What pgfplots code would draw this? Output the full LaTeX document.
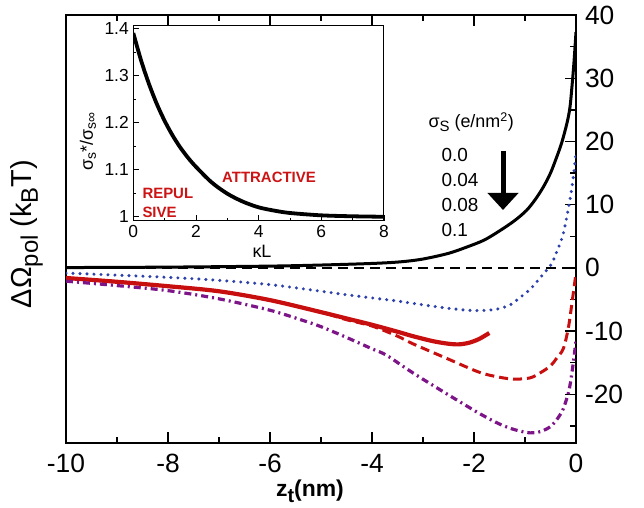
\documentclass[border=0pt]{standalone}
\usepackage{fontspec}
\setmainfont{Liberation Sans}
\usepackage{pgfplots}
\pgfplotsset{compat=1.18}
\usetikzlibrary{arrows.meta}
\definecolor{myblue}{RGB}{45,65,170}
\definecolor{myred}{RGB}{200,15,15}
\definecolor{mypurple}{RGB}{125,20,135}
\definecolor{txtred}{RGB}{204,20,20}
\begin{document}
\begin{tikzpicture}
\path[use as bounding box] (0,0) rectangle (644bp,508bp);
\begin{axis}[
  at={(66bp,65bp)}, anchor=south west,
  scale only axis, width=510bp, height=428bp,
  xmin=-10, xmax=0, ymin=-27.7, ymax=40,
  axis line style={line width=2.4bp},
  tick align=inside,
  xtick={-10,-8,-6,-4,-2,0},
  xticklabels={-10,-8,-6,-4,-2,0},
  minor xtick={-9,-7,-5,-3,-1},
  xtick pos=both,
  ytick={-20,-10,0,10,20,30,40},
  yticklabels={-20,-10,0,10,20,30,40},
  minor ytick={-25,-15,-5,5,15,25,35},
  ytick pos=right, yticklabel pos=right,
  major tick length=11bp, minor tick length=6bp,
  every tick/.style={line width=1.4bp, black},
  tick label style={font=\fontsize{26.5}{30}\selectfont},
  xticklabel style={yshift=-8bp},
  yticklabel style={xshift=5.5bp},
  clip=true,
]
\addplot[black, line width=1.5bp, dash pattern=on 10bp off 6bp] coordinates {(-10,0) (0,0)};
\addplot[black, line width=3bp, smooth] coordinates {
(-10,0.05) (-8,0.12) (-6,0.28) (-5,0.45) (-4,0.7) (-3.45,0.95) (-3,1.4) (-2.5,2.3) (-2.14,3.3) (-1.8,4.4) (-1.49,5.9) (-1.2,7.5) (-0.97,9.1) (-0.8,10.8) (-0.64,12.8) (-0.5,15.0) (-0.38,17.5) (-0.28,19.8) (-0.18,22.8) (-0.12,25.3) (-0.08,28.6) (-0.04,32.5) (0,37.3)};
\addplot[myblue, line width=3.4bp, line cap=round, dash pattern=on 0bp off 7bp, smooth] coordinates {
(-10,-0.82) (-9,-1.15) (-8,-1.5) (-7,-1.97) (-6,-2.65) (-5.36,-3.3) (-5,-3.7) (-4.5,-4.25) (-4,-4.75) (-3.5,-5.25) (-3,-5.85) (-2.5,-6.4) (-2,-6.75) (-1.6,-6.6) (-1.3,-5.9) (-1.1,-4.7) (-0.9,-3.4) (-0.77,-2.2) (-0.57,-0.3) (-0.48,0.6) (-0.38,2.5) (-0.25,5.4) (-0.12,10.7) (-0.05,14.5) (0,18.3)};
\addplot[myred, line width=3bp, dash pattern=on 9bp off 5bp, smooth] coordinates {
(-10,-1.6) (-9,-2.2) (-8,-2.9) (-7,-3.7) (-6,-5.1) (-5,-7.0) (-4.5,-8.2) (-4,-9.2) (-3.5,-10.8) (-3.2,-12.0) (-2.54,-14.3) (-1.9,-16.5) (-1.5,-17.3) (-1.2,-17.6) (-0.9,-17.4) (-0.7,-16.6) (-0.5,-15.5) (-0.38,-14.3) (-0.25,-12.8) (-0.15,-9.5) (-0.07,-5.0) (0,-0.8)};
\addplot[myred, line width=4.2bp, smooth] coordinates {
(-10,-1.6) (-9,-2.2) (-8,-2.9) (-7,-3.7) (-6,-5.1) (-5,-7.0) (-4.5,-8.0) (-4,-9.0) (-3.5,-10.1) (-3.2,-10.8) (-2.8,-11.6) (-2.5,-12.0) (-2.3,-12.1) (-2.1,-11.85) (-1.9,-11.25) (-1.7,-10.3)};
\addplot[mypurple, line width=3.2bp, dash pattern=on 7bp off 4bp on 2bp off 4bp, smooth] coordinates {
(-10,-2.1) (-9,-2.8) (-8,-3.6) (-7,-4.9) (-6,-6.7) (-5.36,-8.3) (-5,-9.3) (-4.5,-11.0) (-4,-12.8) (-3.72,-13.8) (-3.2,-16.6) (-2.54,-19.9) (-1.9,-23.0) (-1.5,-24.7) (-1.2,-25.6) (-0.9,-26.1) (-0.7,-25.9) (-0.5,-25.1) (-0.35,-23.7) (-0.25,-22.3) (-0.15,-19.8) (-0.1,-17.7) (-0.05,-14.8) (0,-11.5)};
\end{axis}
\begin{axis}[
  at={(133.3bp,287bp)}, anchor=south west,
  scale only axis, width=250.7bp, height=195bp,
  xmin=0, xmax=8, ymin=0.991, ymax=1.405,
  axis line style={line width=1bp},
  tick align=inside,
  xtick={0,2,4,6,8}, xticklabels={0,2,4,6,8},
  minor xtick={1,3,5,7},
  ytick={1,1.1,1.2,1.3,1.4}, yticklabels={1,1.1,1.2,1.3,1.4},
  minor ytick={1.05,1.15,1.25,1.35},
  xtick pos=bottom, ytick pos=left,
  major tick length=6bp, minor tick length=3bp,
  every tick/.style={line width=0.8bp, black},
  tick label style={font=\fontsize{17.5}{20}\selectfont},
  xticklabel style={yshift=-1bp},
  yticklabel style={xshift=-1bp},
]
\addplot[black, line width=3.8bp, smooth] coordinates {
(0,1.39) (0.25,1.3315) (0.5,1.282) (0.75,1.2395) (1,1.2036) (1.25,1.173) (1.5,1.147) (1.75,1.125) (2,1.106) (2.5,1.073) (3,1.049) (3.5,1.032) (4,1.020) (4.5,1.013) (5,1.008) (6,1.003) (7,1.001) (8,1.0)};
\end{axis}
% texts
\node[font=\fontsize{29}{32}\selectfont, rotate=90] at (27bp,274bp) {ΔΩ\raisebox{-6bp}{\fontsize{24}{26}\selectfont pol} (k\raisebox{-6bp}{\fontsize{24}{26}\selectfont B}T)};
\node[font=\bfseries\fontsize{23}{26}\selectfont] at (310bp,17bp) {z\raisebox{-6bp}{\fontsize{20}{22}\selectfont t}(nm)};
\node[font=\fontsize{18}{20}\selectfont] at (262bp,257bp) {κL};
\node[font=\fontsize{18}{20}\selectfont, rotate=90] at (88bp,366bp) {σ\raisebox{-3bp}{\fontsize{14}{16}\selectfont s}*/σ\raisebox{-3bp}{\fontsize{14}{16}\selectfont s∞}};
\node[font=\bfseries\fontsize{15}{18}\selectfont, text=txtred] at (269bp,331bp) {ATTRACTIVE};
\node[font=\bfseries\fontsize{15}{18}\selectfont, text=txtred, anchor=west] at (139bp,315bp) {REPUL};
\node[font=\bfseries\fontsize{15}{18}\selectfont, text=txtred, anchor=west] at (139bp,296bp) {SIVE};
\node[font=\fontsize{18}{20}\selectfont, anchor=west] at (425bp,386bp) {σ\raisebox{-4bp}{\fontsize{15}{17}\selectfont S} (e/nm\textsuperscript{2})};
\node[font=\fontsize{19}{21}\selectfont, anchor=west] at (438bp,353bp) {0.0};
\node[font=\fontsize{19}{21}\selectfont, anchor=west] at (438bp,328bp) {0.04};
\node[font=\fontsize{19}{21}\selectfont, anchor=west] at (438bp,303bp) {0.08};
\node[font=\fontsize{19}{21}\selectfont, anchor=west] at (438bp,278bp) {0.1};
\draw[line width=5bp, -{Triangle[width=30bp,length=17bp]}] (503bp,357bp) -- (503bp,298bp);
\end{tikzpicture}
\end{document}
